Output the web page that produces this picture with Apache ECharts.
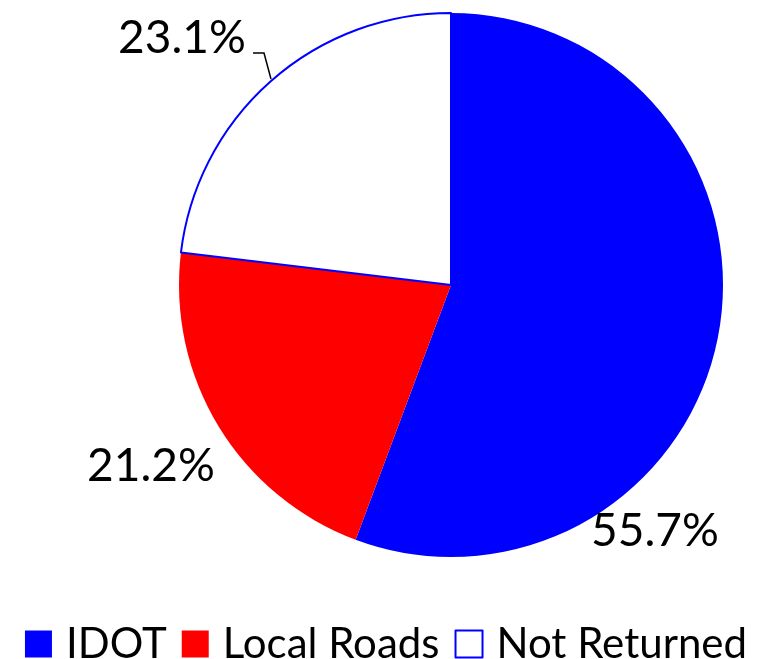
<!DOCTYPE html>
<html>
<head>
<meta charset="utf-8">
<script src="https://cdn.jsdelivr.net/npm/echarts@6/dist/echarts.min.js"></script>
<style>
  html, body { margin: 0; padding: 0; background: #fff; }
  #chart { width: 772px; height: 659px; }
</style>
</head>
<body>
<div id="chart"></div>
<script>
const categories = ['IDOT', 'Local Roads', 'Not Returned']
const values = [55.7, 21.2, 23.1]
const colors = ['#0000ff', '#ff0000', '#ffffff']

// where each percentage label sits (Excel-like placement)
const labelSpots = [
  { x: 655, y: 531 },
  { x: 151, y: 466 },
  { x: 182, y: 38 },
]

const chart = echarts.init(document.getElementById('chart'))

const data = categories.map((name, i) => {
  const item = {
    name: name,
    value: values[i],
    itemStyle: { color: colors[i] },
  }
  if (i === 2) {
    item.itemStyle.borderColor = '#0000ff'
    item.itemStyle.borderWidth = 2
    item.label = { position: 'outside' }
    item.labelLine = { show: true }
  } else {
    item.label = { position: 'inside' }
  }
  return item
})

chart.setOption({
  animation: false,
  legend: {
    data: categories,
    top: 618,
    left: 'center',
    icon: 'rect',
    itemWidth: 27,
    itemHeight: 27,
    itemGap: 15,
    textStyle: {
      fontFamily: 'Lato',
      fontSize: 42,
      lineHeight: 42,
      color: '#000',
      padding: [0, 0, 0, 9],
    },
  },
  series: [{
    type: 'pie',
    center: [451, 285],
    radius: [0, 272],
    startAngle: 90,
    clockwise: true,
    data: data,
    label: {
      show: true,
      overflow: 'none',
      formatter: (p) => p.value.toFixed(1) + '%',
      fontFamily: 'Lato',
      fontSize: 46,
      color: '#000',
    },
    labelLine: { show: false, lineStyle: { color: '#000', width: 1.5 } },
    labelLayout: (params) => {
      const s = labelSpots[params.dataIndex]
      const out = { x: s.x, y: s.y, align: 'center', verticalAlign: 'middle' }
      if (params.dataIndex === 2) {
        out.labelLinePoints = [[271, 79], [264, 53], [253, 53]]
      }
      return out
    },
    emphasis: { disabled: true },
  }],
})
</script>
</body>
</html>
